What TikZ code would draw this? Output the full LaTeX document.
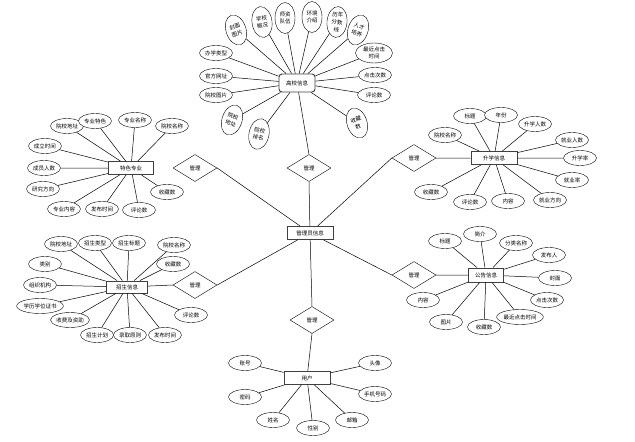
\documentclass[tikz,border=0pt]{standalone}
\usepackage{fontspec}
\setmainfont{Noto Sans CJK SC}
\usetikzlibrary{shapes.geometric}

\begin{document}
\begin{tikzpicture}[
  x=1pt, y=-1pt,
  every node/.style={font=\fontsize{5.5}{6.5}\selectfont},
  attr/.style={ellipse, draw, fill=white, inner sep=0pt, minimum width=33pt, minimum height=15pt},
  tilt/.style={attr, align=center, minimum width=20pt, minimum height=31pt, font=\fontsize{5.5}{7.5}\selectfont},
  ent/.style={draw=black!75, line width=0.9pt, fill=white, minimum width=46pt, minimum height=13pt, inner sep=1pt},
  rel/.style={diamond, draw, fill=white, inner sep=0pt, minimum width=44pt, minimum height=27pt},
  link/.style={line width=0.5pt}
]
\useasboundingbox (0,0) rectangle (635,442);

% ---- centre: admin and the six relations ----
\node[ent] (admin) at (310,233) {管理员信息};
\node[rel] (rTop) at (309,168) {管理};
\node[rel] (rLU) at (195,168) {管理};
\node[rel] (rLL) at (195,285) {管理};
\node[rel] (rRU) at (414,158) {管理};
\node[rel] (rRL) at (414,275) {管理};
\node[rel] (rBot) at (312,320) {管理};

% ---- entities ----
\node[ent, rounded corners=3pt, minimum width=36pt, minimum height=18pt] (school) at (297,83) {高校信息};
\node[ent, minimum width=45pt] (major) at (131,168) {特色专业};
\node[ent, minimum width=41pt, minimum height=12pt] (enroll) at (127,287) {招生信息};
\node[ent] (upgrade) at (494,158) {升学信息};
\node[ent, minimum width=35pt, minimum height=14pt] (notice) at (486,275) {公告信息};
\node[ent] (user) at (307,378) {用户};

\draw[link] (rTop.south) -- (admin) (rBot.north) -- (admin)
  (rLU.east) -- (admin) (rLL.east) -- (admin)
  (rRU.west) -- (admin) (rRL.west) -- (admin);
\draw[link] (school) -- (rTop.north) (rLL.west) -- (enroll)
  (rRU.east) -- (upgrade) (rRL.east) -- (notice) (rBot.south) -- (user);

% ---- school attributes ----
\node[tilt, rotate=18] (s1) at (236,30) {封面\\图片};
\node[tilt, rotate=8] (s2) at (262,22) {学校\\概况};
\node[tilt] (s3) at (285,18) {师资\\队伍};
\node[tilt] (s4) at (312,17) {环境\\介绍};
\node[tilt, rotate=-6] (s5) at (337,22) {历年\\分数\\线};
\node[tilt, rotate=-18] (s6) at (358,30) {人才\\培养};
\node[attr] (s7) at (216,53) {办学类型};
\node[attr, align=center, minimum width=37pt, minimum height=20pt] (s8) at (374,53) {最近点击\\时间};
\node[attr] (s9) at (216,76) {官方网址};
\node[attr] (s10) at (216,95) {院校图片};
\node[attr] (s11) at (375,75) {点击次数};
\node[attr] (s12) at (374,95) {评论数};
\node[tilt, rotate=-18] (s13) at (232,120) {院校\\地址};
\node[tilt, rotate=-12] (s14) at (259,134) {院校\\排名};
\node[tilt, rotate=18] (s15) at (357,123) {收藏\\数};
\draw[link] (s1) -- (school) (s2) -- (school) (s3) -- (school) (s4) -- (school)
  (s5) -- (school) (s6) -- (school) (s7) -- (school) (s8) -- (school)
  (s9) -- (school) (s10) -- (school) (s11) -- (school) (s12) -- (school)
  (s13) -- (school) (s14) -- (school) (s15) -- (school);

% ---- major attributes ----
\node[attr] (m1) at (67,126) {院校地址};
\node[attr] (m2) at (95,121) {专业特色};
\node[attr] (m3) at (135,120) {专业名称};
\node[attr] (m4) at (172,126) {院校名称};
\node[attr] (m5) at (45,146) {成立时间};
\node[attr] (m6) at (44,168) {成员人数};
\node[attr] (m7) at (43,189) {研究方向};
\node[attr] (m8) at (64,209) {专业内容};
\node[attr] (m9) at (102,209) {发布时间};
\node[attr] (m10) at (139,210) {评论数};
\node[attr] (m11) at (167,192) {收藏数};
\draw[link] (m1) -- (major) (m2) -- (major) (m3) -- (major) (m4) -- (major)
  (m5) -- (major) (m6) -- (major) (m7) -- (major) (m8) -- (major)
  (m9) -- (major) (m10) -- (major) (m11) -- (major);

% ---- enrolment attributes ----
\node[attr] (e1) at (61,244) {院校地址};
\node[attr] (e2) at (95,243) {招生类型};
\node[attr] (e3) at (129,243) {招生标题};
\node[attr] (e4) at (174,245) {院校名称};
\node[attr] (e5) at (173,264) {收藏数};
\node[attr] (e6) at (45,264) {类别};
\node[attr] (e7) at (40,285) {组织机构};
\node[attr] (e8) at (40,306) {学历学位证书};
\node[attr] (e9) at (70,320) {收费及资助};
\node[attr] (e10) at (97,335) {招生计划};
\node[attr] (e11) at (130,335) {录取原则};
\node[attr] (e12) at (165,335) {发布时间};
\node[attr] (e13) at (191,315) {评论数};
\draw[link] (e1) -- (enroll) (e2) -- (enroll) (e3) -- (enroll) (e4) -- (enroll)
  (e5) -- (enroll) (e6) -- (enroll) (e7) -- (enroll) (e8) -- (enroll)
  (e9) -- (enroll) (e10) -- (enroll) (e11) -- (enroll) (e12) -- (enroll)
  (e13) -- (enroll);

% ---- upgrade attributes ----
\node[attr] (u1) at (470,116) {标题};
\node[attr] (u2) at (501,115) {年份};
\node[attr] (u3) at (535,124) {升学人数};
\node[attr] (u4) at (572,140) {就业人数};
\node[attr] (u5) at (580,158) {升学率};
\node[attr] (u6) at (572,180) {就业率};
\node[attr] (u7) at (550,200) {就业方向};
\node[attr] (u8) at (508,201) {内容};
\node[attr] (u9) at (470,202) {评论数};
\node[attr] (u10) at (431,192) {收藏数};
\node[attr] (u11) at (445,135) {院校名称};
\draw[link] (u1) -- (upgrade) (u2) -- (upgrade) (u3) -- (upgrade) (u4) -- (upgrade)
  (u5) -- (upgrade) (u6) -- (upgrade) (u7) -- (upgrade) (u8) -- (upgrade)
  (u9) -- (upgrade) (u10) -- (upgrade) (u11) -- (upgrade);

% ---- notice attributes ----
\node[attr] (n1) at (445,241) {标题};
\node[attr] (n2) at (480,234) {简介};
\node[attr] (n3) at (516,243) {分类名称};
\node[attr] (n4) at (549,255) {发布人};
\node[attr] (n5) at (555,278) {封面};
\node[attr] (n6) at (547,300) {点击次数};
\node[attr] (n7) at (520,317) {最近点击时间};
\node[attr] (n8) at (484,327) {收藏数};
\node[attr] (n9) at (446,322) {图片};
\node[attr] (n10) at (423,300) {内容};
\draw[link] (n1) -- (notice) (n2) -- (notice) (n3) -- (notice) (n4) -- (notice)
  (n5) -- (notice) (n6) -- (notice) (n7) -- (notice) (n8) -- (notice)
  (n9) -- (notice) (n10) -- (notice);

% ---- user attributes ----
\node[attr] (p1) at (245,363) {账号};
\node[attr] (p2) at (245,397) {密码};
\node[attr] (p3) at (273,420) {姓名};
\node[attr] (p4) at (313,428) {性别};
\node[attr] (p5) at (352,420) {邮箱};
\node[attr] (p6) at (375,363) {头像};
\node[attr] (p7) at (375,394) {手机号码};
\draw[link] (p1) -- (user) (p2) -- (user) (p3) -- (user) (p4) -- (user)
  (p5) -- (user) (p6) -- (user) (p7) -- (user);
\end{tikzpicture}
\end{document}
